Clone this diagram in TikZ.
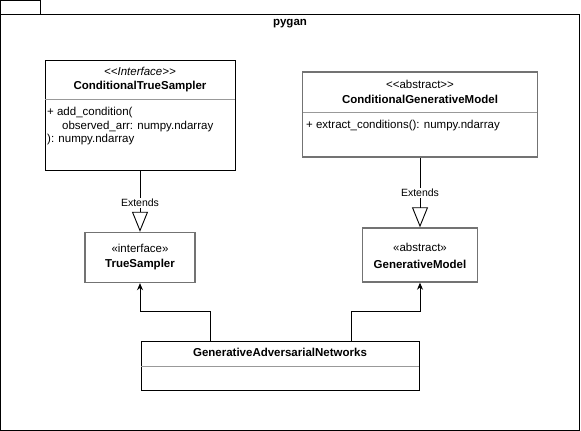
\documentclass[tikz,border=0pt]{standalone}
\usepackage{fontspec}
\setmainfont{Liberation Sans}
\usetikzlibrary{arrows.meta}
\tikzset{
  pkgline/.style={draw=black, line width=1pt},
  classbox/.style={draw=black, line width=1pt, inner sep=0pt},
  greybox/.style={draw=black!55, line width=1.4pt, inner sep=0pt},
  sepline/.style={draw=black!40, line width=0.8pt},
  txt/.style={inner sep=0pt, font=\fontsize{11.5}{13}\selectfont},
  bold/.style={txt, font=\fontsize{11.5}{13}\selectfont\bfseries},
  member/.style={txt, anchor=west},
  extends/.style={draw=black, line width=0.9pt, -{Triangle[open, length=20pt, width=16pt]}},
  uses/.style={draw=black, line width=0.9pt, -{Stealth[length=7pt, width=6pt]}},
  extlabel/.style={fill=white, inner sep=1pt, font=\fontsize{10.5}{12}\selectfont}
}
\begin{document}
\begin{tikzpicture}[x=1pt, y=-1pt]
  \useasboundingbox (0,0) rectangle (581,431);
  %% package frame
  \draw[pkgline] (0.5,0.5) rectangle (40.5,14.5);
  \draw[pkgline] (0.5,14.5) rectangle (579.5,430);
  \node[bold] (pkgname) at (290,24) {pygan};

  %% class boxes
  \node[classbox, minimum width=190pt, minimum height=110pt] (cts) at (140,115) {};
  \node[greybox, minimum width=235pt, minimum height=85pt] (cgm) at (420,114.5) {};
  \node[greybox, minimum width=110pt, minimum height=50pt] (ts) at (140,257.5) {};
  \node[greybox, minimum width=115pt, minimum height=54pt] (gm) at (420,255) {};
  \node[classbox, minimum width=278pt, minimum height=49pt] (gan) at (280,365.5) {};

  %% compartments
  \draw[sepline] (45,99) -- (235,99);
  \draw[sepline] (303,112) -- (537,112);
  \draw[sepline] (141,366) -- (419,366);

  %% class texts
  \node[txt] (ctsst) at (140,71) {\textit{<{}<Interface>{}>}};
  \node[bold] (ctsname) at (140,87) {ConditionalTrueSampler};
  \node[member] (ctsm1) at (47,113) {+ add\_condition(};
  \node[member] (ctsm2) at (62,127) {observed\_arr: numpy.ndarray};
  \node[member] (ctsm3) at (47,140) {): numpy.ndarray};
  \node[txt] (cgmst) at (420,84) {<{}<abstract>{}>};
  \node[bold] (cgmname) at (420,99) {ConditionalGenerativeModel};
  \node[member] (cgmm1) at (306,126) {+ extract\_conditions(): numpy.ndarray};
  \node[txt] (tsst) at (140,248) {«interface»};
  \node[bold] (tsname) at (140,265) {TrueSampler};
  \node[txt] (gmst) at (420,247) {«abstract»};
  \node[bold] (gmname) at (420,264) {GenerativeModel};
  \node[bold] (ganname) at (280,352) {GenerativeAdversarialNetworks};

  %% edges
  \draw[extends] (cts) -- node[extlabel, pos=0.53] (ext1) {Extends} (ts);
  \draw[extends] (cgm) -- node[extlabel, pos=0.51] (ext2) {Extends} (gm);
  \draw[uses] ([xshift=-70pt]gan.north) -- ++(0,-29) -| (ts.south);
  \draw[uses] ([xshift=71pt]gan.north) -- ++(0,-29) -| (gm.south);
\end{tikzpicture}
\end{document}
